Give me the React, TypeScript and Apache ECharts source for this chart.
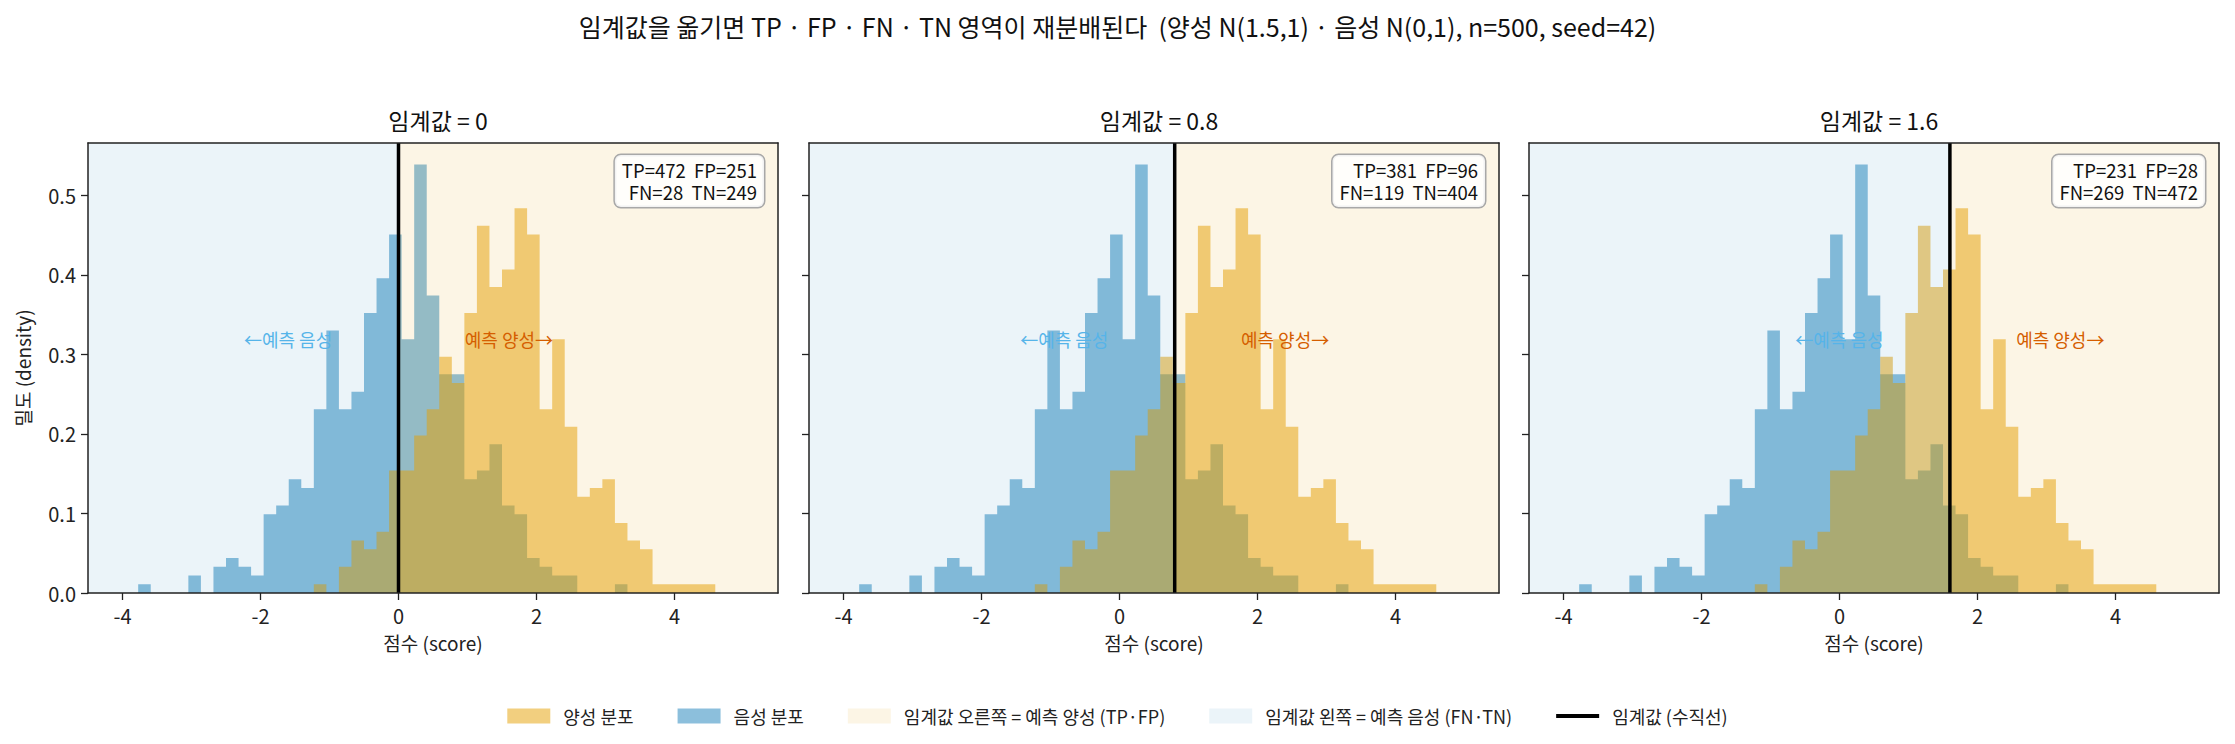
import React, { useEffect, useRef } from "react";
import * as echarts from "echarts";

// ---- data -------------------------------------------------------------
const N_SAMPLES = 500;
const BIN_LO = -4.5;
const BIN_HI = 5.5;
const N_BINS = 55;

// histogram counts per shared bin
const NEG_COUNTS = [
  0, 0, 0, 0, 1, 0, 0, 0, 2, 0, 3, 4, 3, 2, 9, 10, 13, 12, 21, 30, 21, 23, 32, 36, 41, 29, 49, 34,
  25, 25, 13, 14, 17, 10, 9, 4, 3, 2, 2, 0, 0, 0, 1, 0, 0, 0, 0, 0, 0, 0, 0, 0, 0, 0, 0,
];
const POS_COUNTS = [
  0, 0, 0, 0, 0, 0, 0, 0, 0, 0, 0, 0, 0, 0, 0, 0, 0, 0, 1, 0, 3, 6, 5, 7, 14, 14, 18, 21, 27, 24,
  32, 42, 35, 37, 44, 41, 21, 29, 19, 11, 12, 13, 8, 6, 5, 1, 1, 1, 1, 1, 0, 0, 0, 0, 0,
];

const THRESHOLDS = [0, 0.8, 1.6];
const TP = [472, 381, 231];
const FP = [251, 96, 28];
const FN = [28, 119, 269];
const TN = [249, 404, 472];

const X_TICKS = [-4, -2, 0, 2, 4];
const Y_TICKS = [0, 0.1, 0.2, 0.3, 0.4, 0.5];

const SUPTITLE =
  "임계값을 옮기면 TP · FP · FN · TN 영역이 재분배된다  (양성 N(1.5,1) · 음성 N(0,1), n=500, seed=42)";
const REGION_LABELS = ["←예측 음성", "예측 양성→"];
const REGION_LABEL_OFFSET = 1.6;
const REGION_LABEL_Y = 0.32;

const NAME_POS = "양성 분포";
const NAME_NEG = "음성 분포";
const NAME_RIGHT = "임계값 오른쪽 = 예측 양성 (TP·FP)";
const NAME_LEFT = "임계값 왼쪽 = 예측 음성 (FN·TN)";
const NAME_THR = "임계값 (수직선)";

// ---- styling / layout -------------------------------------------------
const FONT = '"Noto Sans CJK KR", "Noto Sans", sans-serif';
const INK = "#222";
const POS_COLOR = "#E69F00";
const NEG_COLOR = "#0072B2";
const POS_LABEL_COLOR = "#D55E00";
const NEG_LABEL_COLOR = "#56B4E9";
const RIGHT_FILL = "rgba(230,159,0,0.10)";
const LEFT_FILL = "rgba(0,114,178,0.08)";

const GRID_LEFTS = [88, 809, 1529];
const GRID_W = 690;
const GRID_TOP = 143;
const GRID_H = 450;

const BIN_W = (BIN_HI - BIN_LO) / N_BINS;
const EDGES = Array.from({ length: N_BINS + 1 }, (_, k) => BIN_LO + k * BIN_W);
const toDensity = (c: number) => c / (N_SAMPLES * BIN_W);
const PEAK = Math.max(...NEG_COUNTS.map(toDensity), ...POS_COUNTS.map(toDensity));
const Y_MAX = PEAK * 1.05;

// step outline points for a histogram (value holds until the next edge)
function stepPoints(counts: number[]) {
  const pts: number[][] = counts.map((c, k) => [EDGES[k], toDensity(c)]);
  pts.push([EDGES[N_BINS], 0]);
  return pts;
}

function buildOption() {
  const grid: any[] = [];
  const xAxis: any[] = [];
  const yAxis: any[] = [];
  const series: any[] = [];
  const title: any[] = [
    {
      text: SUPTITLE,
      left: "center",
      top: 8,
      textStyle: { fontSize: 25, fontWeight: "normal", color: "#111", fontFamily: FONT },
    },
  ];
  const graphic: any[] = [];

  const lineAxis = { show: true, lineStyle: { color: INK, width: 1.5 } };

  THRESHOLDS.forEach((thr, p) => {
    const left = GRID_LEFTS[p];
    grid.push({ left, top: GRID_TOP, width: GRID_W, height: GRID_H });

    xAxis.push({
      type: "value",
      gridIndex: p,
      min: BIN_LO,
      max: BIN_HI,
      z: 10,
      axisLine: { ...lineAxis, onZero: false },
      axisTick: { show: true, length: 7, customValues: X_TICKS, lineStyle: { color: INK, width: 1.3 } },
      axisLabel: {
        show: true,
        customValues: X_TICKS,
        margin: 12,
        fontSize: 20,
        color: INK,
        fontFamily: FONT,
      },
      splitLine: { show: false },
      name: "점수 (score)",
      nameLocation: "middle",
      nameGap: 40,
      nameTextStyle: { fontSize: 19, color: INK, fontFamily: FONT },
    });
    xAxis.push({
      type: "value",
      gridIndex: p,
      position: "top",
      min: BIN_LO,
      max: BIN_HI,
      z: 10,
      axisLine: { ...lineAxis, onZero: false },
      axisTick: { show: false },
      axisLabel: { show: false },
      splitLine: { show: false },
    });
    yAxis.push({
      type: "value",
      gridIndex: p,
      min: 0,
      max: Y_MAX,
      z: 10,
      axisLine: { ...lineAxis, onZero: false },
      axisTick: { show: true, length: 7, customValues: Y_TICKS, lineStyle: { color: INK, width: 1.3 } },
      axisLabel: {
        show: p === 0,
        customValues: Y_TICKS,
        margin: 12,
        fontSize: 20,
        color: INK,
        fontFamily: FONT,
        formatter: (v: number) => v.toFixed(1),
      },
      splitLine: { show: false },
      name: p === 0 ? "밀도 (density)" : "",
      nameLocation: "middle",
      nameGap: 56,
      nameRotate: 90,
      nameTextStyle: { fontSize: 19, color: INK, fontFamily: FONT },
    });
    yAxis.push({
      type: "value",
      gridIndex: p,
      position: "right",
      min: 0,
      max: Y_MAX,
      z: 10,
      axisLine: { ...lineAxis, onZero: false },
      axisTick: { show: false },
      axisLabel: { show: false },
      splitLine: { show: false },
    });

    const xi = 2 * p;
    const yi = 2 * p;

    // negative-class histogram (drawn first)
    series.push({
      name: NAME_NEG,
      type: "line",
      xAxisIndex: xi,
      yAxisIndex: yi,
      data: stepPoints(NEG_COUNTS),
      step: "end",
      showSymbol: false,
      silent: true,
      itemStyle: { color: NEG_COLOR },
      lineStyle: { width: 0, opacity: 0 },
      areaStyle: { color: NEG_COLOR, opacity: 0.45 },
      z: 2,
    });
    // positive-class histogram
    series.push({
      name: NAME_POS,
      type: "line",
      xAxisIndex: xi,
      yAxisIndex: yi,
      data: stepPoints(POS_COUNTS),
      step: "end",
      showSymbol: false,
      silent: true,
      itemStyle: { color: POS_COLOR },
      lineStyle: { width: 0, opacity: 0 },
      areaStyle: { color: POS_COLOR, opacity: 0.5 },
      z: 2,
    });

    const spanItem = (fill: string) => (params: any, api: any) => {
      const tl = api.coord([api.value(0), Y_MAX]);
      const br = api.coord([api.value(1), 0]);
      return {
        type: "rect",
        shape: { x: tl[0], y: tl[1], width: br[0] - tl[0], height: br[1] - tl[1] },
        style: { fill },
      };
    };
    // shaded decision regions, laid over the histograms
    series.push({
      name: NAME_LEFT,
      type: "custom",
      xAxisIndex: xi,
      yAxisIndex: yi,
      silent: true,
      encode: { x: [0, 1] },
      itemStyle: { color: LEFT_FILL },
      data: [[BIN_LO, thr]],
      renderItem: spanItem(LEFT_FILL),
      z: 3,
    });
    series.push({
      name: NAME_RIGHT,
      type: "custom",
      xAxisIndex: xi,
      yAxisIndex: yi,
      silent: true,
      encode: { x: [0, 1] },
      itemStyle: { color: RIGHT_FILL },
      data: [[thr, BIN_HI]],
      renderItem: spanItem(RIGHT_FILL),
      z: 3,
    });
    // threshold line
    series.push({
      name: NAME_THR,
      type: "custom",
      xAxisIndex: xi,
      yAxisIndex: yi,
      silent: true,
      encode: { x: 0 },
      itemStyle: { color: "#000" },
      data: [[thr]],
      renderItem: (params: any, api: any) => {
        const a = api.coord([api.value(0), 0]);
        const b = api.coord([api.value(0), Y_MAX]);
        return {
          type: "line",
          shape: { x1: a[0], y1: a[1], x2: b[0], y2: b[1] },
          style: { stroke: "#000", lineWidth: 3.5 },
        };
      },
      z: 4,
    });
    // region captions on either side of the threshold
    series.push({
      type: "custom",
      xAxisIndex: xi,
      yAxisIndex: yi,
      silent: true,
      data: [
        [thr - REGION_LABEL_OFFSET, REGION_LABEL_Y],
        [thr + REGION_LABEL_OFFSET, REGION_LABEL_Y],
      ],
      renderItem: (params: any, api: any) => {
        const pt = api.coord([api.value(0), api.value(1)]);
        const i = params.dataIndex;
        return {
          type: "text",
          x: pt[0],
          y: pt[1],
          style: {
            text: REGION_LABELS[i],
            fill: i === 0 ? NEG_LABEL_COLOR : POS_LABEL_COLOR,
            font: `18px ${FONT}`,
            align: "center",
            verticalAlign: "middle",
          },
        };
      },
      z: 5,
    });

    title.push({
      text: `임계값 = ${thr}`,
      left: left + GRID_W / 2,
      top: 103,
      textAlign: "center",
      textStyle: { fontSize: 23, fontWeight: "normal", color: "#111", fontFamily: FONT },
    });

    graphic.push({
      type: "text",
      x: left + GRID_W - 14,
      y: GRID_TOP + 12,
      z: 20,
      style: {
        text: `TP=${TP[p]}\u00a0\u00a0FP=${FP[p]}\nFN=${FN[p]}\u00a0\u00a0TN=${TN[p]}`,
        align: "right",
        verticalAlign: "top",
        font: `18.5px ${FONT}`,
        lineHeight: 22,
        fill: "#111",
        backgroundColor: "rgba(255,255,255,0.85)",
        borderColor: "#a8a8a8",
        borderWidth: 1.5,
        borderRadius: 6,
        padding: [4, 7, 4, 7],
      },
    });
  });

  return {
    animation: false,
    backgroundColor: "#fff",
    textStyle: { fontFamily: FONT },
    title,
    grid,
    xAxis,
    yAxis,
    series,
    graphic,
    legend: {
      top: 702,
      left: "center",
      selectedMode: false,
      itemWidth: 43,
      itemHeight: 15,
      itemGap: 44,
      textStyle: { fontSize: 18, color: INK, fontFamily: FONT, padding: [0, 0, 0, 8] },
      data: [
        { name: NAME_POS, icon: "rect", itemStyle: { color: "rgba(230,159,0,0.5)", borderWidth: 0 } },
        { name: NAME_NEG, icon: "rect", itemStyle: { color: "rgba(0,114,178,0.45)", borderWidth: 0 } },
        { name: NAME_RIGHT, icon: "rect", itemStyle: { color: RIGHT_FILL, borderWidth: 0 } },
        { name: NAME_LEFT, icon: "rect", itemStyle: { color: LEFT_FILL, borderWidth: 0 } },
        { name: NAME_THR, icon: "path://M0,0H40V3.5H0Z", itemStyle: { color: "#000", borderWidth: 0 } },
      ],
    },
  };
}

export default function App() {
  const ref = useRef<HTMLDivElement>(null);
  useEffect(() => {
    if (!ref.current) return;
    const chart = echarts.init(ref.current, undefined, { renderer: "svg" });
    chart.setOption(buildOption() as any);
    return () => chart.dispose();
  }, []);
  return (
    <div
      ref={ref}
      style={{ position: "fixed", left: 0, top: 0, width: 2235, height: 744, background: "#fff" }}
    />
  );
}
